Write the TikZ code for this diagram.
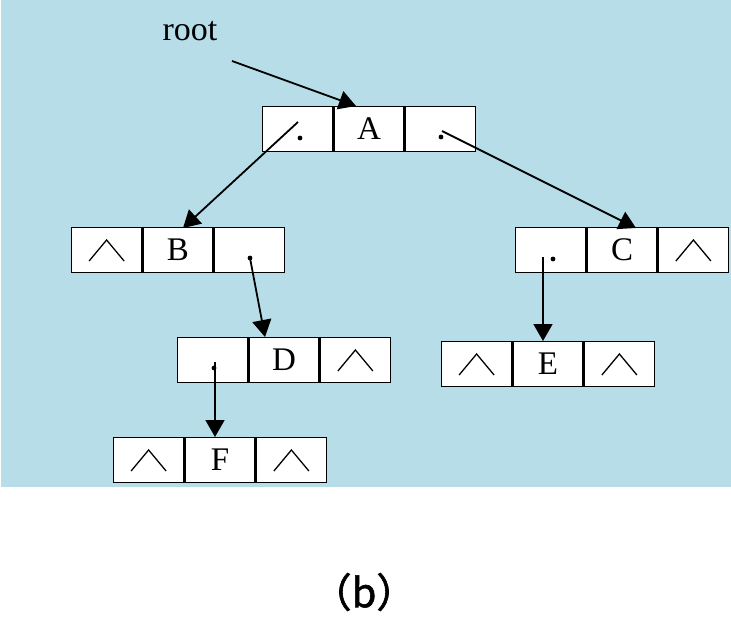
\documentclass[tikz,border=0pt]{standalone}
\usepackage{fontspec}
\setmainfont{Liberation Serif}
\newfontfamily\cjk[FakeBold=1.5]{Noto Sans CJK SC}
\usetikzlibrary{arrows.meta}
\definecolor{panel}{HTML}{B7DDE8}
\tikzset{
  cell/.style={draw=black, fill=white, line width=1.4pt, minimum width=70pt,
    minimum height=45pt, inner sep=0pt, font=\fontsize{33}{33}\selectfont},
  link/.style={line width=1.8pt, -{Triangle[length=17pt,width=19pt]}},
  ptr/.style={fill=black},
  nil/.style={line width=1.3pt}
}
% three-field record: left pointer, data, right pointer
\newcommand{\record}[4]{%
  \node[cell] (#1m) at (#2,#3) {#4};
  \node[cell, anchor=east] (#1l) at (#1m.west) {};
  \node[cell, anchor=west] (#1r) at (#1m.east) {};
}
% empty pointer mark inside a field
\newcommand{\nilmark}[1]{%
  \draw[nil] ([shift={(-17.5pt,-11pt)}]#1.center) -- ([shift={(0pt,10pt)}]#1.center) -- ([shift={(17.5pt,-11pt)}]#1.center);
}
\begin{document}
\begin{tikzpicture}[x=1pt,y=-1pt]
\useasboundingbox (0,0) rectangle (731,639);
\fill[panel] (1,0) rectangle (731,487);

\record{A}{369}{129}{A}
\record{B}{178}{250}{B}
\record{C}{622}{250}{C}
\record{D}{284}{360}{D}
\record{E}{548}{364}{E}
\record{F}{220}{460}{F}

\nilmark{Bl}
\nilmark{Cr}
\nilmark{Dr}
\nilmark{El}
\nilmark{Er}
\nilmark{Fl}
\nilmark{Fr}

\node[font=\fontsize{34}{34}\selectfont] (root) at (190,31) {root};
\coordinate (rootstart) at (232,61);
\coordinate (Atip) at (356,106);
\draw[link] (rootstart) -- (Atip);

% pointer dots
\fill[ptr] (300,138) circle (2.4pt);
\fill[ptr] (441,137) circle (2.4pt);
\fill[ptr] (250,258) circle (2.4pt);
\fill[ptr] (214,368) circle (2.4pt);
\fill[ptr] (553,259) circle (2.4pt);

\coordinate (a1) at (298,122);
\coordinate (a2) at (442,131);
\coordinate (b1) at (250,258);
\coordinate (d1) at (215,362);
\coordinate (c1) at (543,257);

\draw[link] (a1) -- (183,228) coordinate (Btip);
\draw[link] (a2) -- (636,228) coordinate (Ctip);
\draw[link] (b1) -- (265,337) coordinate (Dtip);
\draw[link] (d1) -- (215,437) coordinate (Ftip);
\draw[link] (c1) -- (543,341) coordinate (Etip);

\node[font=\cjk\fontsize{40}{40}\selectfont] (cap) at (364,592) {（b）};
\end{tikzpicture}
\end{document}
